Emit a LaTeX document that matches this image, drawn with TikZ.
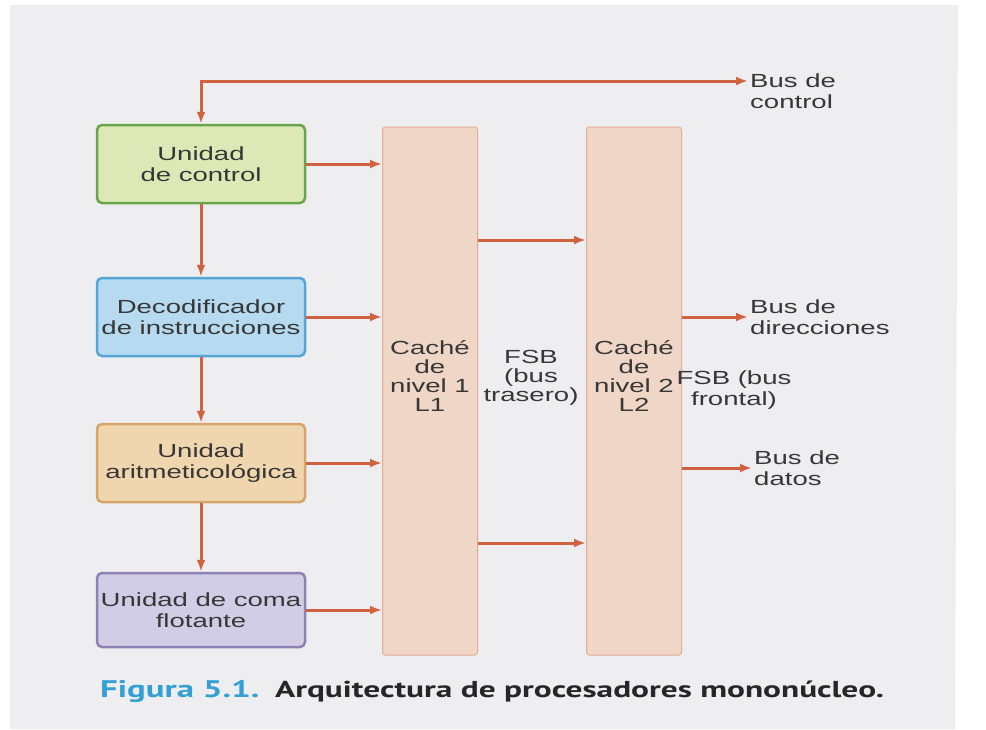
\documentclass[tikz,border=0pt]{standalone}
\usepackage{fontspec}
\usetikzlibrary{arrows.meta,positioning,calc}
\newfontfamily\diagfont[FakeStretch=1.45]{Liberation Sans}
\newfontfamily\capfont[FakeStretch=1.45]{PT Sans}
\definecolor{page}{RGB}{238,238,240}
\definecolor{busline}{RGB}{208,98,64}
\definecolor{ink}{RGB}{55,55,55}
\definecolor{ctrledge}{RGB}{105,165,75}
\definecolor{ctrlfill}{RGB}{222,232,182}
\definecolor{decedge}{RGB}{85,165,215}
\definecolor{decfill}{RGB}{182,218,240}
\definecolor{aluedge}{RGB}{215,165,105}
\definecolor{alufill}{RGB}{240,214,174}
\definecolor{fpuedge}{RGB}{140,130,180}
\definecolor{fpufill}{RGB}{210,205,230}
\definecolor{cachefill}{RGB}{240,214,198}
\definecolor{cacheedge}{RGB}{226,172,148}
\definecolor{figblue}{RGB}{50,160,210}

\begin{document}
\begin{tikzpicture}[x=1pt, y=-1pt, text=ink,
  font=\diagfont\fontsize{19}{21}\selectfont,
  >={Latex[length=12pt,width=9pt]},
  unit/.style={line width=2.5pt, rounded corners=5pt, minimum width=208pt,
    minimum height=78pt, align=center, inner sep=2pt},
  cache/.style={draw=cacheedge, line width=1pt, fill=cachefill,
    rounded corners=3pt, minimum width=95pt, minimum height=528pt},
  bus/.style={draw=busline, line width=3pt, ->},
  txt/.style={align=center, inner sep=2pt}]
\useasboundingbox (0,0) rectangle (986,729);
\fill[white] (0,0) rectangle (986,729);
\fill[page] (10,5) -- (958,5) -- (955,729) -- (10,729) -- cycle;

% units of the processor
\node[unit, draw=ctrledge, fill=ctrlfill] (ctrl) at (201,164) {Unidad\\de control};
\node[unit, draw=decedge, fill=decfill] (dec) at (201,317) {Decodificador\\de instrucciones};
\node[unit, draw=aluedge, fill=alufill] (alu) at (201,463) {Unidad\\aritmeticológica};
\node[unit, draw=fpuedge, fill=fpufill, minimum height=74pt] (fpu) at (201,610)
  {Unidad de coma\\flotante};

% caches
\node[cache] (l1) at (430,391) {};
\node[cache] (l2) at (634,391) {};
\node[txt, font=\diagfont\fontsize{19}{19}\selectfont] (l1txt) at (430,376) {Caché\\de\\nivel 1\\L1};
\node[txt, font=\diagfont\fontsize{19}{19}\selectfont] (l2txt) at (634,376) {Caché\\de\\nivel 2\\L2};
\node[txt, font=\diagfont\fontsize{19}{19}\selectfont] (fsbt) at (531,378) {FSB\\(bus\\trasero)};
\node[txt] (fsbf) at (734,390) {FSB (bus\\frontal)};

% buses
\node[anchor=west, align=left, inner sep=2pt] (bctl) at (748,91) {Bus de\\control};
\node[anchor=west, align=left, inner sep=2pt] (bdir) at (748,317) {Bus de\\direcciones};
\node[anchor=west, align=left, inner sep=2pt] (bdat) at (752,468) {Bus de\\datos};

\foreach \a/\b in {ctrl/dec,dec/alu,alu/fpu}
  \draw[bus] (\a) -- (\b);
\foreach \u in {ctrl,dec,alu,fpu}
  \draw[bus] (\u.east) -- (\u.east -| l1.west);
\foreach \dy in {151,-152}
  \draw[bus] ([yshift=\dy pt]l1.east) -- ([yshift=\dy pt]l2.west);
\draw[bus, <->] (ctrl.north) |- ([yshift=10pt]bctl.west);
\draw[bus] (bdir.west -| l2.east) -- (bdir.west);
\draw[bus] (bdat.west -| l2.east) -- (bdat.west);

% caption
\node[anchor=base west, inner sep=0pt, font=\capfont\bfseries\fontsize{24}{26}\selectfont,
  text=figblue] (figno) at (100,697) {Figura 5.1.};
\node[anchor=base west, inner sep=0pt, font=\capfont\bfseries\fontsize{23}{25}\selectfont,
  text=black!85] (figcap) at (275,697) {Arquitectura de procesadores mononúcleo.};
\end{tikzpicture}
\end{document}
